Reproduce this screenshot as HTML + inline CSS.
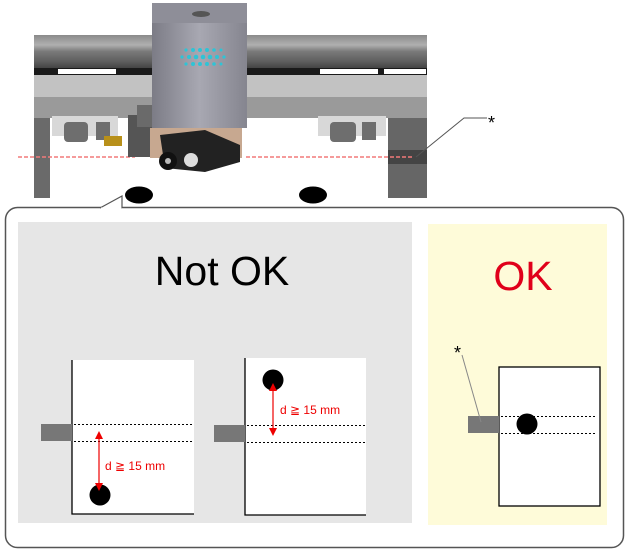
<!DOCTYPE html>
<html><head><meta charset="utf-8"><style>
html,body{margin:0;padding:0;background:#fff;}
svg{display:block;font-family:"Liberation Sans",sans-serif;}
</style></head><body>
<svg width="627" height="553" viewBox="0 0 627 553" xmlns="http://www.w3.org/2000/svg">
<defs>
<linearGradient id="rail" x1="0" y1="0" x2="0" y2="1">
<stop offset="0" stop-color="#8a8a8a"/><stop offset="0.3" stop-color="#b0b0b0"/><stop offset="0.5" stop-color="#7a7a7a"/><stop offset="0.8" stop-color="#5e5e5e"/><stop offset="1" stop-color="#444"/>
</linearGradient>
<linearGradient id="head" x1="0" y1="0" x2="1" y2="0">
<stop offset="0" stop-color="#7c7c86"/><stop offset="0.5" stop-color="#a8a8b2"/><stop offset="1" stop-color="#85858f"/>
</linearGradient>
</defs>
<rect x="34" y="118" width="16" height="80" fill="#6a6a6a"/>
<rect x="388" y="118" width="39" height="80" fill="#666"/>
<rect x="388" y="150" width="39" height="14" fill="#444"/>
<rect x="34" y="35" width="393" height="33" fill="url(#rail)"/>
<rect x="34" y="68" width="393" height="8" fill="#1a1a1a"/>
<rect x="58" y="69" width="58" height="5" fill="#fff"/>
<rect x="320" y="69" width="58" height="5" fill="#fff"/>
<rect x="384" y="69" width="42" height="5" fill="#fff"/>
<rect x="34" y="75" width="393" height="22" fill="#c2c2c2"/>
<rect x="34" y="97" width="393" height="21" fill="#9a9a9a"/>
<rect x="52" y="116" width="66" height="20" fill="#d8d8d8"/>
<rect x="64" y="122" width="24" height="20" rx="4" fill="#6e6e6e"/>
<rect x="96" y="122" width="14" height="18" fill="#6e6e6e"/>
<rect x="318" y="116" width="68" height="20" fill="#d8d8d8"/>
<rect x="330" y="122" width="26" height="20" rx="4" fill="#6e6e6e"/>
<rect x="362" y="122" width="14" height="18" fill="#6e6e6e"/>
<line x1="18" y1="157" x2="135" y2="157" stroke="#f27a7a" stroke-width="1.5" stroke-dasharray="4,2"/>
<line x1="246" y1="157" x2="412" y2="157" stroke="#f27a7a" stroke-width="1.5" stroke-dasharray="4,2"/>
<rect x="128" y="115" width="26" height="42" fill="#555"/>
<rect x="104" y="136" width="18" height="10" fill="#b8901a"/>
<rect x="137" y="105" width="15" height="22" fill="#6a6a6a"/>
<rect x="152" y="3" width="95" height="125" fill="url(#head)"/>
<rect x="152" y="3" width="95" height="20" fill="#8e8e98"/>
<ellipse cx="201" cy="14" rx="9" ry="3" fill="#555"/>
<rect x="150" y="128" width="92" height="30" fill="#c7a890"/>
<path d="M160 135 L205 130 L240 145 L240 162 L205 172 L165 168 Z" fill="#222"/>
<circle cx="168" cy="161" r="9" fill="#111"/>
<circle cx="168" cy="161" r="3" fill="#bbb"/>
<circle cx="191" cy="160" r="7" fill="#ddd"/>
<g fill="#2ec4d6">
<circle cx="186" cy="50" r="1.6"/><circle cx="193" cy="50" r="2"/><circle cx="200" cy="50" r="2"/><circle cx="207" cy="50" r="2"/><circle cx="214" cy="50" r="1.8"/><circle cx="221" cy="50" r="1.5"/>
<circle cx="182" cy="57" r="1.6"/><circle cx="189" cy="57" r="2"/><circle cx="196" cy="57" r="2.3"/><circle cx="203" cy="57" r="2.3"/><circle cx="210" cy="57" r="2.3"/><circle cx="217" cy="57" r="2"/><circle cx="224" cy="57" r="1.6"/>
<circle cx="186" cy="64" r="1.6"/><circle cx="193" cy="64" r="2"/><circle cx="200" cy="64" r="2"/><circle cx="207" cy="64" r="2"/><circle cx="214" cy="64" r="1.8"/><circle cx="221" cy="64" r="1.5"/>
</g>
<ellipse cx="139" cy="195" rx="14" ry="8.5" fill="#000"/>
<ellipse cx="313" cy="195" rx="14" ry="8.5" fill="#000"/>
<polyline points="416,157 464,118 487,118" fill="none" stroke="#555" stroke-width="1"/>
<text x="488" y="129" font-size="18">*</text>
<rect x="5.5" y="207.5" width="618" height="340" rx="12" fill="#fff" stroke="#555" stroke-width="1.5"/>
<polyline points="100,208 122,196 122,208" fill="#fff" stroke="#555" stroke-width="1.2"/>
<line x1="101" y1="208.5" x2="121" y2="208.5" stroke="#fff" stroke-width="2"/>
<rect x="18" y="222" width="394" height="301" fill="#e6e6e6"/>
<text x="222" y="285" font-size="41" text-anchor="middle" fill="#000">Not OK</text>
<rect x="72" y="360" width="122" height="154" fill="#fff"/>
<polyline points="72,360 72,514 194,514" fill="none" stroke="#000" stroke-width="1.3"/>
<rect x="41" y="424" width="31" height="17" fill="#777"/>
<line x1="74" y1="424.5" x2="194" y2="424.5" stroke="#000" stroke-dasharray="2,2"/>
<line x1="74" y1="441.5" x2="194" y2="441.5" stroke="#000" stroke-dasharray="2,2"/>
<circle cx="100" cy="495" r="10.5" fill="#000"/>
<line x1="99" y1="436" x2="99" y2="486" stroke="#e00" stroke-width="1.2"/>
<path d="M95 439 L99 431 L103 439Z" fill="#e00"/>
<path d="M95 483 L99 491 L103 483Z" fill="#e00"/>
<text x="105" y="470" font-size="12" fill="#e00">d ≧ 15 mm</text>
<rect x="245" y="358" width="121" height="157" fill="#fff"/>
<polyline points="245,358 245,515 366,515" fill="none" stroke="#000" stroke-width="1.3"/>
<rect x="214" y="425" width="31" height="17" fill="#777"/>
<line x1="247" y1="425.5" x2="366" y2="425.5" stroke="#000" stroke-dasharray="2,2"/>
<line x1="247" y1="442.5" x2="366" y2="442.5" stroke="#000" stroke-dasharray="2,2"/>
<circle cx="273" cy="380" r="10.5" fill="#000"/>
<line x1="273" y1="387" x2="273" y2="432" stroke="#e00" stroke-width="1.2"/>
<path d="M269 391 L273 383 L277 391Z" fill="#e00"/>
<path d="M269 428 L273 436 L277 428Z" fill="#e00"/>
<text x="280" y="414" font-size="12" fill="#e00">d ≧ 15 mm</text>
<rect x="428" y="224" width="179" height="301" fill="#fefbd9"/>
<text x="523" y="290" font-size="41" text-anchor="middle" fill="#e0001a">OK</text>
<rect x="499" y="367" width="101" height="139" fill="#fff" stroke="#000" stroke-width="1.3"/>
<rect x="468" y="416" width="31" height="17" fill="#777"/>
<line x1="501" y1="416.5" x2="596" y2="416.5" stroke="#000" stroke-dasharray="2,2"/>
<line x1="501" y1="433.5" x2="596" y2="433.5" stroke="#000" stroke-dasharray="2,2"/>
<circle cx="527" cy="424" r="10.5" fill="#000"/>
<line x1="462" y1="355" x2="481" y2="422" stroke="#888" stroke-width="1"/>
<text x="454" y="359" font-size="18">*</text>
</svg>
</body></html>
